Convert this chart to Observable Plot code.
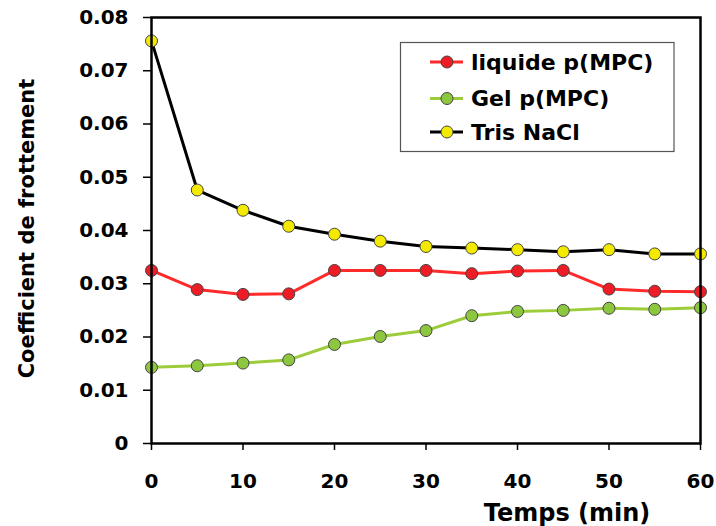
<!DOCTYPE html>
<html>
<head>
<meta charset="utf-8">
<script src="https://cdn.jsdelivr.net/npm/d3@7"></script>
<script src="https://cdn.jsdelivr.net/npm/@observablehq/plot@0.6"></script>
<style>
  html, body { margin: 0; padding: 0; background: #fff; }
  #chart { position: relative; width: 716px; height: 526px; }
  #chart svg { display: block; }
  #legend { position: absolute; left: 0; top: 0; pointer-events: none; }
</style>
</head>
<body>
<div id="chart"></div>
<script>
// ---- data ----
const time = [0, 5, 10, 15, 20, 25, 30, 35, 40, 45, 50, 55, 60];
const liquide = [0.0325, 0.0289, 0.0280, 0.0281, 0.0325, 0.0325, 0.0325, 0.0319, 0.0324, 0.0325, 0.0290, 0.0286, 0.0285];
const gel = [0.0143, 0.0146, 0.0151, 0.0157, 0.0186, 0.0201, 0.0212, 0.0240, 0.0248, 0.0250, 0.0254, 0.0252, 0.0255];
const tris = [0.0756, 0.0476, 0.0438, 0.0408, 0.0393, 0.0380, 0.0370, 0.0367, 0.0364, 0.0360, 0.0364, 0.0356, 0.0356];
const seriesNames = ["liquide p(MPC)", "Gel p(MPC)", "Tris NaCl"];
const xTicks = [0, 10, 20, 30, 40, 50, 60];
const yTicks = [0, 0.01, 0.02, 0.03, 0.04, 0.05, 0.06, 0.07, 0.08];
const xLabel = "Temps (min)";
const yLabel = "Coefficient de frottement";

const styles = [
  {line: "#ff2b2b", fill: "#ee1c25"},
  {line: "#9ccc3a", fill: "#8dc63f"},
  {line: "#000000", fill: "#f4ea00"}
];
const values = [liquide, gel, tris];
const rows = values.flatMap((vals, si) => vals.map((v, i) => ({t: time[i], v, s: seriesNames[si]})));

const FONT = "DejaVu Sans, Verdana, sans-serif";

const marks = [];
seriesNames.forEach((name, si) => {
  const d = rows.filter(r => r.s === name);
  marks.push(Plot.line(d, {x: "t", y: "v", stroke: styles[si].line, strokeWidth: 3}));
});
seriesNames.forEach((name, si) => {
  const d = rows.filter(r => r.s === name);
  marks.push(Plot.dot(d, {x: "t", y: "v", r: 6, fill: styles[si].fill, stroke: "#444", strokeWidth: 1}));
});

const chart = Plot.plot({
  width: 716,
  height: 526,
  marginLeft: 151,
  marginRight: 16,
  marginTop: 17,
  marginBottom: 83,
  style: {fontFamily: FONT, background: "#fff", color: "#000"},
  x: {domain: [0, 60]},
  y: {domain: [0, 0.08]},
  marks: [
    ...marks,
    Plot.frame({stroke: "#000", strokeWidth: 2.5}),
    Plot.axisX({ticks: xTicks, tickSize: 7, tickPadding: 23, fontSize: 20, fontWeight: "bold", label: null, strokeWidth: 1.5}),
    Plot.axisY({ticks: yTicks, tickSize: 8, tickPadding: 15, fontSize: 20, fontWeight: "bold", label: null, strokeWidth: 1.5, tickFormat: d3.format("~g")}),
    Plot.text([xLabel], {text: d => d, frameAnchor: "bottom", dx: 141, dy: 60, lineAnchor: "top", fontSize: 24, fontWeight: "bold", fill: "#000"}),
    Plot.text([yLabel], {text: d => d, frameAnchor: "left", textAnchor: "middle", rotate: -90, dx: -124, dy: -2, lineAnchor: "middle", fontSize: 21, fontWeight: "bold", fill: "#000"})
  ]
});
document.getElementById("chart").appendChild(chart);

// ---- legend ----
const lg = d3.select("#chart").append("svg")
  .attr("id", "legend").attr("width", 716).attr("height", 526);
lg.append("rect").attr("x", 400.5).attr("y", 42.5).attr("width", 273.5).attr("height", 109)
  .attr("fill", "#fff").attr("stroke", "#555").attr("stroke-width", 1.2);
const rowY = [62, 98.5, 132];
seriesNames.forEach((name, i) => {
  const g = lg.append("g").attr("transform", `translate(0,${rowY[i]})`);
  g.append("line").attr("x1", 430).attr("x2", 463).attr("y1", 0).attr("y2", 0)
    .attr("stroke", styles[i].line).attr("stroke-width", 3);
  g.append("circle").attr("cx", 447).attr("cy", 0).attr("r", 6)
    .attr("fill", styles[i].fill).attr("stroke", "#444").attr("stroke-width", 1);
  g.append("text").attr("x", 471).attr("y", 0).attr("dy", "0.36em")
    .attr("font-family", FONT).attr("font-weight", "bold").attr("font-size", 22)
    .attr("fill", "#000").text(name);
});
</script>
</body>
</html>
